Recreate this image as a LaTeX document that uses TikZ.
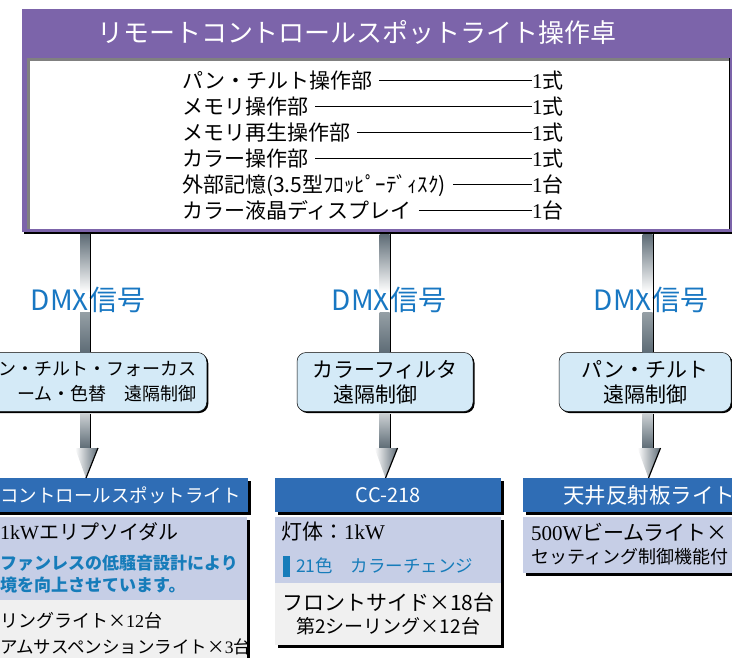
\documentclass[tikz,border=0pt]{standalone}
\usepackage{fontspec}
\setmainfont{Noto Sans CJK JP}
\newfontfamily\lat{Liberation Serif}
\usetikzlibrary{calc,shadows}

\definecolor{deskpurple}{RGB}{124,100,170}
\definecolor{headblue}{RGB}{47,109,181}
\definecolor{speclav}{RGB}{198,206,230}
\definecolor{usegray}{RGB}{240,240,240}
\definecolor{boxblue}{RGB}{212,234,247}
\definecolor{dmxblue}{RGB}{24,119,194}
\definecolor{noteblue}{RGB}{22,124,186}
\definecolor{bardark}{RGB}{94,108,118}
\definecolor{barmid}{RGB}{150,160,166}
\definecolor{insetgray}{RGB}{128,128,128}
\newcommand{\fs}[1]{\fontsize{#1}{#1}\selectfont}

\begin{document}
\begin{tikzpicture}[x=1pt,y=-1pt,
    item/.style={anchor=west,inner sep=0pt,text height=18pt,text depth=2pt,font=\fs{21}},
    rule/.style={line width=0.8pt,shorten <=7pt},
    dmx/.style={inner sep=0pt,text=dmxblue,font=\fs{28}},
    ctrl/.style={fill=boxblue,draw=black,line width=0.5pt,rounded corners=9pt,inner xsep=10pt,minimum height=59pt,
        font=\fontsize{21}{25}\selectfont,drop shadow={shadow xshift=1.5pt,shadow yshift=-1.5pt,fill=black,opacity=1}},
    head/.style={fill=headblue,text=white,inner sep=0pt,minimum height=34pt,anchor=north west,
        drop shadow={shadow xshift=3pt,shadow yshift=-3pt,fill=black,opacity=1}},
    spec/.style={fill=speclav,inner sep=0pt,anchor=north west,
        drop shadow={shadow xshift=2.5pt,shadow yshift=-2.5pt,fill=black,opacity=1}},
    use/.style={fill=usegray,inner sep=0pt,anchor=north west,
        drop shadow={shadow xshift=2.5pt,shadow yshift=-2.5pt,fill=black,opacity=1}},
    txt/.style={inner sep=0pt,anchor=west}]
                \useasboundingbox(0, 0)rectangle(732, 657);
                \clip(0, 0)rectangle(732, 657);
                \node[fill=deskpurple,minimum width=710pt,minimum height=223pt,anchor=north west,inner sep=0pt,
                    drop shadow={shadow xshift=2pt,shadow yshift=-2pt,fill=black,opacity=1}](console)at(22, 9){};
                \node[fill=white,minimum width=702pt,minimum height=171pt,anchor=north west,inner sep=0pt](panel)at(27, 58){};
                \draw[insetgray,line width=2.5pt]($(panel.south west)+(1.25,0)$)--($(panel.north west)+(1.25,1.25)$)--($(panel.north east)+(0,1.25)$);
                \draw[line width=1pt](panel.north east)--(panel.south east);
                \node[text=white,font=\fs{26},inner sep=0pt](title)at(357, 33){リモートコントロールスポットライト操作卓};
                \node[item](pantilt)at(182, 80){パン・チルト操作部};
                \node[item](memory)at(182, 106){メモリ操作部};
                \node[item](replay)at(182, 132){メモリ再生操作部};
                \node[item](color)at(182, 158){カラー操作部};
                \node[item](floppy)at(182, 184){外部記憶(3.5型ﾌﾛｯﾋﾟｰﾃﾞｨｽｸ)};
                \node[item](display)at(182, 210){カラー液晶ディスプレイ};
                \node[item](pantiltq)at(532, 80){{\lat 1}式};
                \node[item](memoryq)at(532, 106){{\lat 1}式};
                \node[item](replayq)at(532, 132){{\lat 1}式};
                \node[item](colorq)at(532, 158){{\lat 1}式};
                \node[item](floppyq)at(532, 184){{\lat 1}台};
                \node[item](displayq)at(532, 210){{\lat 1}台};
                \path(pantilt) edge[rule] (pantiltq)
                (memory) edge[rule] (memoryq)
                (replay) edge[rule] (replayq)
                (color) edge[rule] (colorq)
                (floppy) edge[rule] (floppyq)
                (display) edge[rule] (displayq);
                \coordinate(colL)at(85, 0);
                \coordinate(colM)at(384.5, 0);
                \coordinate(colR)at(647.5, 0);
                \node[dmx](dmxL)at(88, 300){DMX信号};
                \node[dmx](dmxM)at(389, 300){DMX信号};
                \node[dmx](dmxR)at(651, 300){DMX信号};
                \node[ctrl,anchor=east,text width=230pt,align=right,font=\fontsize{18}{25}\selectfont](ctrlL)at(207, 382){ン・チルト・フォーカス\\ーム・色替　遠隔制御};
                \node[ctrl,align=left,minimum width=176pt](ctrlM)at(385, 382){カラーフィルタ\\　遠隔制御};
                \node[ctrl,align=center,minimum width=172pt](ctrlR)at(645, 382){パン・チルト\\遠隔制御};
                \node[head,minimum width=328pt](headL)at(-80, 478){};
                \node[txt,anchor=east,text=white,font=\fs{18.5}](nameL)at(241, 495){コントロールスポットライト};
                \node[head,minimum width=226pt,font=\fs{20}](headM)at(275, 478){CC-218};
                \node[head,minimum width=252pt,font=\fs{21.5}](headR)at(523, 478){天井反射板ライト};
                \node[spec,minimum width=267pt,minimum height=83pt](specL)at(-20, 517){};
                \node[use,minimum width=267pt,minimum height=70pt](useL)at(-20, 600){};
                \node[spec,minimum width=226pt,minimum height=66pt](specM)at(275, 517){};
                \node[use,minimum width=226pt,minimum height=62pt,align=center,font=\fontsize{21}{23}\selectfont](useM)at(275, 583){フロントサイド×18台\\{\fs{19}第2シーリング×12台}};
                \node[spec,minimum width=230pt,minimum height=56pt](specR)at(523, 517){};
                \node[txt,font=\fs{20}](lampL)at(0, 532){{\lat 1kW}エリプソイダル};
                \node[txt,text=noteblue,font=\bfseries\fs{17}](noteL)at(0, 563){ファンレスの低騒音設計により};
                \node[txt,text=noteblue,font=\bfseries\fs{17}](noteLb)at(0, 585){境を向上させています。};
                \node[txt,font=\fs{18}](useLa)at(0, 621){リングライト×{\lat 12}台};
                \node[txt,font=\fs{17.5}](useLb)at(0, 647){アムサスペンションライト×{\lat 3}台};
                \node[txt,font=\fs{21}](lampM)at(281, 532){灯体：{\lat 1kW}};
                \fill[noteblue](283, 556)rectangle(290, 577);
                \node[txt,text=noteblue,font=\fs{17.5}](noteM)at(296, 566){21色　カラーチェンジ};
                \node[txt,font=\fs{21}](lampR)at(531, 532){{\lat 500W}ビームライト×};
                \node[txt,font=\fs{18}](fnR)at(531, 557){セッティング制御機能付};
                \foreach \c in {L,M,R}{
                    \shade[top color=bardark,bottom color=white]($(col\c|-console.south)+(-5,2)$)rectangle($(col\c|-dmx\c.center)+(5,-8)$);
                    \shade[top color=barmid,bottom color=bardark]($(col\c|-dmx\c.center)+(-5,12)$)rectangle($(col\c|-ctrl\c.north)+(5,0)$);
                    \draw[line width=1.2pt]($(col\c|-console.south)+(5.6,2)$)--($(col\c|-ctrl\c.north)+(5.6,0)$);
                    \shade[top color=barmid!50,bottom color=bardark]($(col\c|-ctrl\c.south)+(-5,2)$)rectangle($(col\c|-head\c.north)+(5,-30)$);
                    \draw[line width=1.2pt]($(col\c|-ctrl\c.south)+(5.6,2)$)--($(col\c|-head\c.north)+(5.6,-30)$);
                    \shade[left color=white,right color=bardark]($(col\c|-head\c.north)+(-10,-30)$)--($(col\c|-head\c.north)+(13,-30)$)--($(col\c|-head\c.north)+(1,0)$)--cycle;
                    \draw[line width=1.2pt]($(col\c|-head\c.north)+(13,-30)$)--($(col\c|-head\c.north)+(1,0)$);
                }
            \end{tikzpicture}
\end{document}
